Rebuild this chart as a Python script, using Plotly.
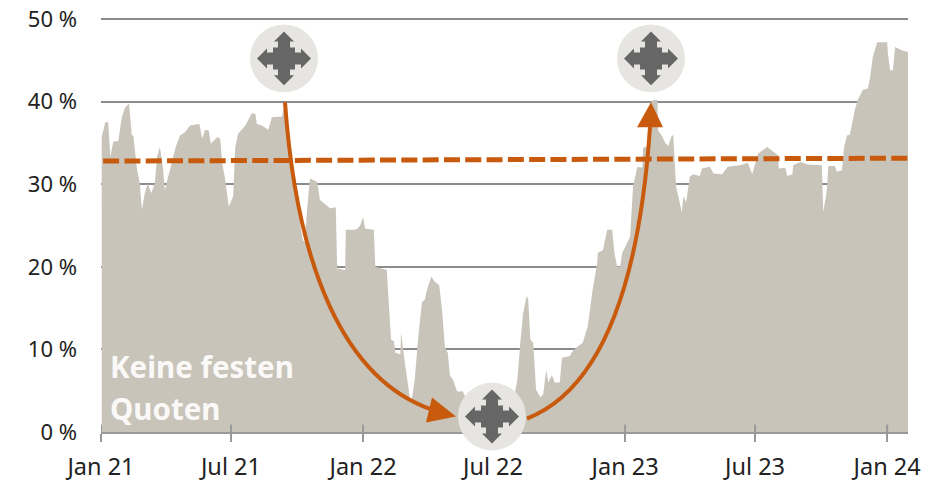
import pandas as pd
import plotly.graph_objects as go

start_date = "2021-01-01"
days = [1,6,10,13,17,20,24,29,33,39,43,45,50,54,57,61,65,70,75,78,82,86,89,92,96,104,110,117,124,137,141,145,150,153,162,166,169,173,178,184,187,191,201,210,215,217,224,233,238,252,256,260,265,270,276,281,284,287,291,301,305,319,327,329,330,340,341,354,357,361,365,368,380,382,398,404,408,410,417,418,421,423,426,430,433,437,442,447,451,454,460,465,471,475,479,483,486,490,496,504,514,542,575,580,584,588,593,595,598,602,606,612,616,620,623,628,632,639,642,653,656,663,671,678,684,691,692,699,705,712,715,719,723,726,733,737,741,747,754,755,761,765,769,775,776,781,786,790,795,797,801,804,809,811,815,820,825,834,837,848,853,865,869,873,890,901,907,911,915,928,936,943,944,953,956,963,964,974,985,1004,1006,1011,1013,1022,1025,1032,1035,1039,1043,1050,1054,1061,1068,1071,1075,1081,1095,1096,1099,1103,1106,1110,1116,1124]
quota = [35.7,37.5,37.5,33.3,35.1,35.2,35.2,38.1,39.2,39.8,35.9,35.9,31.9,30.1,26.9,28.9,30.1,28.9,30.1,33.3,34.5,32.2,29.3,30.3,31.7,34.5,35.9,36.3,37.1,37.3,35.5,36.6,36.5,34.9,35.7,35.5,32.5,30.5,27.3,28.5,34.5,36.1,37.1,38.6,38.5,37.3,37.1,36.6,38.1,38.2,39.7,38.0,32.0,28.9,26.0,23.2,23.0,26.9,30.7,30.3,28.1,27.1,27.2,19.6,19.8,19.6,24.5,24.5,24.6,25.0,26.0,24.6,24.5,20.0,19.6,11.2,11.0,9.6,9.4,12.1,9.8,8.4,6.4,4.2,4.0,6.4,11.6,15.7,16.0,17.2,18.8,18.2,17.8,14.8,10.3,9.6,6.8,6.4,4.9,4.9,3.0,3.0,4.0,6.4,10.8,14.4,16.5,16.0,11.2,10.8,5.1,4.2,4.6,7.5,6.0,6.9,6.0,6.0,9.0,9.2,9.7,10.3,10.8,12.8,16.8,20.4,21.7,22.0,24.5,24.5,21.7,20.0,20.0,21.7,22.9,23.7,29.7,32.1,32.0,34.4,34.6,39.8,40.2,40.2,36.5,35.9,35.0,34.6,35.9,35.9,29.7,28.5,26.6,28.5,27.8,30.9,31.2,31.0,31.9,32.1,31.3,31.2,31.7,32.1,32.3,32.6,31.2,32.6,33.7,34.5,34.0,33.5,31.9,32.0,31.0,31.2,32.3,32.7,32.4,32.3,26.6,29.3,32.2,32.2,31.5,31.7,34.5,35.9,36.0,39.0,40.2,41.4,41.6,42.8,45.4,47.2,47.2,45.8,43.8,43.8,46.6,46.4,46.2,46.0]
trend_days = [3, 1124]
trend_values = [32.8, 33.15]
tick_dates = ["2021-01-01","2021-07-01","2022-01-01","2022-07-01","2023-01-01","2023-07-01","2024-01-01"]
tick_labels = ["Jan 21","Jul 21","Jan 22","Jul 22","Jan 23","Jul 23","Jan 24"]
y_ticks = [0,10,20,30,40,50]
y_labels = ["0 %","10 %","20 %","30 %","40 %","50 %"]

s = pd.Timestamp(start_date)
dates = [s + pd.Timedelta(days=d) for d in days]
trend_dates = [s + pd.Timedelta(days=d) for d in trend_days]
x_end = s + pd.Timedelta(days=1124)

L, R, T, B = 101.0, 908.0, 18.5, 432.5
def px(x, y):
    return f"{(x-L)/(R-L):.5f},{(B-y)/(B-T):.5f}"

ORANGE = "#C85A0D"
GRID = "#8C8C8C"
fig = go.Figure()
fig.add_trace(go.Scatter(x=dates, y=quota, mode="lines", fill="tozeroy", fillcolor="#C8C4BA",
                         line=dict(width=0, color="#C8C4BA"), hoverinfo="skip"))
fig.add_trace(go.Scatter(x=trend_dates, y=trend_values, mode="lines",
                         line=dict(color=ORANGE, width=5, dash="16px,5.3px"), hoverinfo="skip"))

shapes = [dict(type="line", xref="paper", yref="paper", x0=0, x1=1, y0=1, y1=1,
               line=dict(color=GRID, width=2), layer="below")]
for d in tick_dates:
    shapes.append(dict(type="line", xref="x", yref="y", x0=d, x1=d, y0=0, y1=0.9,
                       line=dict(color="#999999", width=2), layer="above"))
def curve(p0, c1, c2, p3):
    return dict(type="path", xref="paper", yref="paper",
                path=f"M{px(*p0)} C{px(*c1)} {px(*c2)} {px(*p3)}",
                line=dict(color=ORANGE, width=4), layer="above")
def poly(pts, color):
    return dict(type="path", xref="paper", yref="paper",
                path="M" + " L".join(px(*p) for p in pts) + " Z",
                fillcolor=color, line=dict(width=0), layer="above")
shapes.append(curve((285,102),(297,270),(345,380),(432,410)))
shapes.append(curve((527,419),(606,388),(640,275),(650,127)))
shapes.append(poly([(456,417),(432,398),(426,423)], ORANGE))
shapes.append(poly([(651,102),(637,127),(663,127)], ORANGE))
q = [(0,-27),(10,-17),(6,-17),(6,-11),(11,-11),(11,-6),(17,-6),(17,-10),(27,0)]
glyph = []
for k in range(4):
    for (a,b) in q[:-1]:
        for _ in range(k):
            a,b = -b,a
        glyph.append((a,b))
for cx,cy in [(284,58),(651,58),(492,417)]:
    shapes.append(dict(type="circle", xref="paper", yref="paper",
                       x0=(cx-34-L)/(R-L), x1=(cx+34-L)/(R-L),
                       y0=(B-cy-34)/(B-T), y1=(B-cy+34)/(B-T),
                       fillcolor="#E6E5E1", line=dict(width=0), layer="above"))
    shapes.append(poly([(cx+a,cy+b) for a,b in glyph], "#666666"))

FONT = "Noto Sans"
fig.update_layout(
    width=941, height=481, showlegend=False,
    margin=dict(l=L, r=941-R, t=T, b=481-B, pad=0, autoexpand=False),
    paper_bgcolor="white", plot_bgcolor="white",
    font=dict(family=FONT, size=22, color="#222222"),
    shapes=shapes,
    xaxis=dict(type="date", range=[s, x_end], tickmode="array", tickvals=tick_dates, ticktext=tick_labels,
               tickfont=dict(size=23.5),
               showgrid=False, showline=True, linecolor="#999999", linewidth=2, automargin=False,
               ticks="outside", ticklen=8, tickwidth=2, tickcolor="#999999", zeroline=False,
               ticklabelstandoff=5),
    yaxis=dict(range=[0,50], tickmode="array", tickvals=y_ticks, ticktext=y_labels, showgrid=True,
               gridcolor=GRID, gridwidth=2, zeroline=False, showline=False, automargin=False,
               ticks="", ticklabelstandoff=23),
    annotations=[
        dict(text="<b>Keine festen</b>", xref="paper", yref="paper", x=(108-L)/(R-L), y=(B-367)/(B-T),
             xanchor="left", yanchor="middle", showarrow=False, font=dict(size=29.5, color="#FAF9F7", family=FONT)),
        dict(text="<b>Quoten</b>", xref="paper", yref="paper", x=(108-L)/(R-L), y=(B-409)/(B-T),
             xanchor="left", yanchor="middle", showarrow=False, font=dict(size=29.5, color="#FAF9F7", family=FONT)),
    ],
)
fig.write_html("out.html", post_script="document.body.style.margin='0';", config={"displayModeBar": False})
